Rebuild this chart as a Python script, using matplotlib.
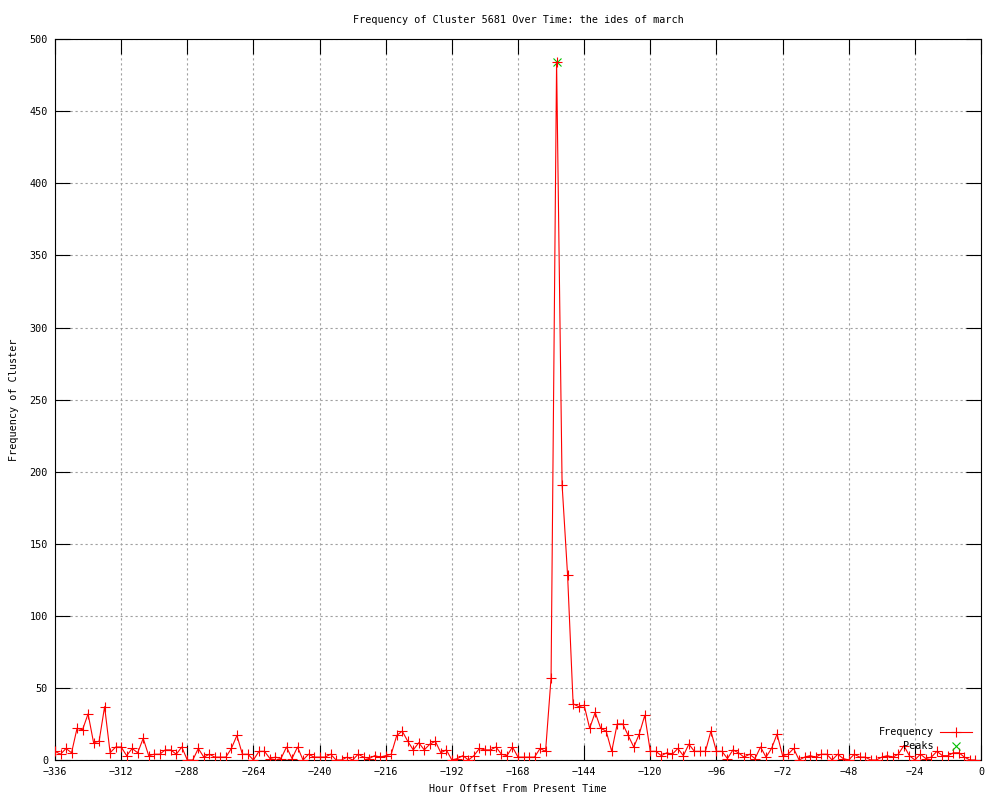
import numpy as np
import matplotlib
matplotlib.use('Agg')
import matplotlib.pyplot as plt

# hour offsets, one sample every 2 hours
hours = np.arange(-336, 0, 2)
frequency = [
    6, 4, 8, 5, 22, 21, 32, 12, 13, 37,
    5, 9, 9, 3, 8, 5, 15, 3, 4, 4,
    7, 7, 4, 9, 0, 0, 8, 2, 4, 2,
    2, 2, 8, 17, 4, 4, 0, 6, 6, 1,
    2, 1, 9, 1, 9, 0, 4, 2, 2, 2,
    4, 0, 0, 2, 0, 4, 2, 1, 3, 2,
    3, 4, 17, 20, 13, 7, 12, 7, 11, 13,
    5, 7, 0, 1, 3, 0, 3, 8, 7, 7,
    9, 4, 3, 9, 2, 2, 2, 2, 8, 6,
    57, 484, 191, 128, 39, 37, 38, 22, 33, 22,
    20, 6, 25, 25, 17, 9, 18, 31, 6, 6,
    3, 5, 4, 8, 3, 11, 6, 6, 6, 20,
    6, 6, 1, 7, 5, 2, 4, 1, 9, 2,
    8, 18, 3, 4, 8, 0, 2, 3, 2, 4,
    4, 0, 4, 1, 0, 4, 2, 2, 0, 0,
    2, 3, 2, 4, 10, 3, 0, 4, 1, 2,
    6, 3, 3, 5, 5, 2, 0, 0,
]
peak_hours = [-154]
peak_values = [484]

x_ticks = list(range(-336, 1, 24))
y_ticks = list(range(0, 501, 50))

plt.rcParams['font.family'] = ['DejaVu Sans Mono']
fs = 7.3

fig = plt.figure(figsize=(10, 8), dpi=100)
ax = fig.add_axes([0.055, 0.05, 0.926, 0.901])

ax.plot(peak_hours, peak_values, linestyle='none', marker='x', color='#00c000',
        markersize=6, markeredgewidth=0.8, label='Peaks', zorder=2)
ax.plot(hours, frequency, color='#ff0000', linewidth=0.8, marker='+',
        markersize=7, markeredgewidth=0.8, label='Frequency', zorder=3)

ax.set_xlim(-336, 0)
ax.set_ylim(0, 500)
ax.set_xticks(x_ticks)
ax.set_yticks(y_ticks)
ax.tick_params(direction='in', length=11, width=0.8, labelsize=fs, pad=5,
               top=True, right=True)
ax.grid(True, color='#a0a0a0', linestyle=(0, (2, 2.5)), linewidth=0.8)
for s in ax.spines.values():
    s.set_linewidth(0.8)

ax.set_title('Frequency of Cluster 5681 Over Time: the ides of march', fontsize=fs, pad=12)
ax.set_xlabel('Hour Offset From Present Time', fontsize=fs, labelpad=5)
ax.set_ylabel('Frequency of Cluster', fontsize=fs, labelpad=8)

handles, labels = ax.get_legend_handles_labels()
leg = ax.legend(handles[::-1], labels[::-1], loc='lower right', frameon=False,
                markerfirst=False, fontsize=fs, handlelength=3.2,
                labelspacing=0.4, borderaxespad=0.45, handletextpad=0.6)

fig.savefig('out.png', dpi=100)
